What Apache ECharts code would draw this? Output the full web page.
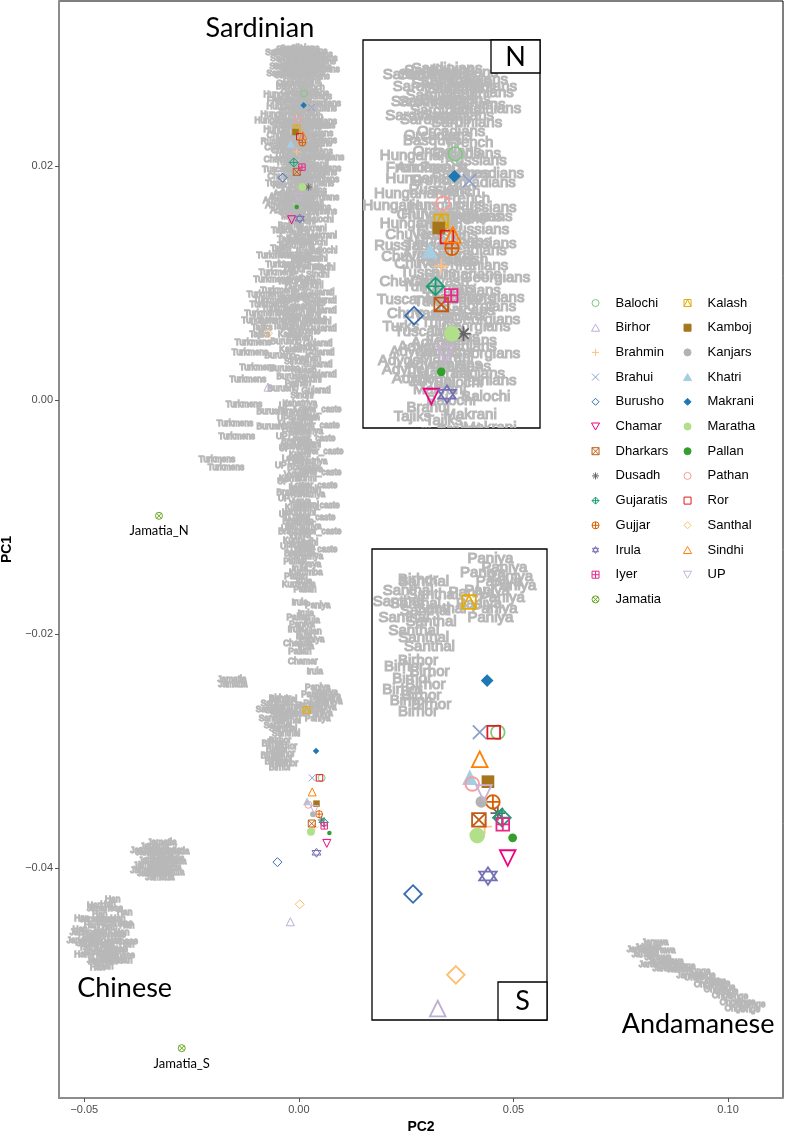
<!DOCTYPE html>
<html><head><meta charset="utf-8">
<script src="https://cdn.jsdelivr.net/npm/echarts@6/dist/echarts.min.js"></script>
<style>html,body{margin:0;padding:0;background:#fff}#c{width:785px;height:1135px}</style>
</head><body><div id="c"></div>
<script>
// ---------- Reference (gray text) populations: [PC2, PC1] ----------
const sardinians = [[0.0002,0.0300],[0.0021,0.0298],[-0.0014,0.0297],[0.0033,0.0295],[0.0002,0.0293],[-0.0021,0.0292],[0.0019,0.0291],[0.0040,0.0289],[-0.0005,0.0288],[0.0012,0.0286],[-0.0023,0.0285],[0.0030,0.0284],[0.0000,0.0281],[0.0016,0.0279],[-0.0012,0.0277],
  [-0.0033,0.0297],[0.0044,0.0292],[-0.0014,0.0285],[0.0049,0.0282],[-0.0030,0.0279],[0.0026,0.0276],[0.0012,0.0294],[-0.0007,0.0299]];
const orcadians = [[0.0007,0.0272],[0.0002,0.0263],[0.0044,0.0249],[0.0033,0.0219],[-0.0009,0.0270],[0.0026,0.0262],[0.0054,0.0253]];
const basques = [[-0.0016,0.0268],[0.0019,0.0253]];
const french = [[0.0030,0.0267],[-0.0002,0.0256],[0.0026,0.0242],[-0.0007,0.0230],[-0.0044,0.0256],[-0.0014,0.0250],[0.0014,0.0245]];
const hungarians = [[-0.0033,0.0261],[-0.0026,0.0251],[-0.0040,0.0244],[0.0002,0.0239],[0.0009,0.0223],[0.0021,0.0208],[-0.0054,0.0239],[0.0035,0.0234],[-0.0033,0.0231],[-0.0007,0.0235]];
const russians = [[0.0037,0.0259],[-0.0007,0.0246],[0.0049,0.0238],[0.0040,0.0228],[0.0002,0.0214],[0.0002,0.0226],[0.0049,0.0222],[-0.0049,0.0221]];
const chuvash = [[-0.0023,0.0235],[-0.0037,0.0226],[-0.0042,0.0216],[-0.0007,0.0205],[-0.0035,0.0191],[0.0016,0.0215],[-0.0026,0.0213],[-0.0044,0.0205]];
const tuscans = [[0.0016,0.0233],[-0.0016,0.0221],[-0.0021,0.0209],[0.0007,0.0198],[-0.0028,0.0183],[0.0002,0.0202],[-0.0049,0.0197],[0.0026,0.0192]];
const armenians = [[0.0026,0.0234],[-0.0009,0.0217],[0.0016,0.0197],[-0.0016,0.0256]];
const iranians = [[0.0044,0.0212],[0.0035,0.0201],[0.0016,0.0190],[0.0009,0.0180],[0.0030,0.0176],[0.0023,0.0167],[0.0030,0.0179],[0.0012,0.0168],[0.0040,0.0164],[0.0054,0.0161],[0.0002,0.0174]];
const turks = [[-0.0030,0.0203],[-0.0016,0.0196],[-0.0007,0.0187],[-0.0016,0.0190],[-0.0054,0.0185],[0.0002,0.0183]];
const georgians = [[0.0044,0.0194],[0.0037,0.0185],[0.0061,0.0207],[0.0054,0.0198],[0.0049,0.0188],[0.0049,0.0173]];
const adygei = [[-0.0014,0.0178],[-0.0040,0.0174],[-0.0021,0.0168],[-0.0037,0.0162],[-0.0030,0.0176],[-0.0054,0.0170],[-0.0016,0.0161],[-0.0049,0.0166]];
const makraniRef = [[0.0002,0.0171],[-0.0002,0.0164],[-0.0007,0.0157],[0.0030,0.0146],[0.0054,0.0140]];
const balochiRef = [[0.0016,0.0160],[0.0007,0.0152],[0.0035,0.0134],[0.0049,0.0154],[0.0058,0.0128]];
const brahuiRef = [[-0.0021,0.0149],[0.0016,0.0139],[0.0021,0.0127],[0.0002,0.0135]];
const tajiks = [[-0.0002,0.0143],[-0.0026,0.0137],[-0.0042,0.0129],[0.0002,0.0119],[-0.0026,0.0101],[-0.0023,0.0086],[-0.0037,0.0063],[-0.0091,0.0056],[-0.0086,0.0062],[-0.0040,0.0145],[-0.0033,0.0075]];
const turkmens = [[-0.0007,0.0132],[-0.0016,0.0124],[-0.0035,0.0116],[-0.0051,0.0109],[-0.0047,0.0093],[-0.0044,0.0078],[-0.0079,0.0090],[-0.0072,0.0081],[-0.0084,0.0074],[-0.0091,0.0068],[-0.0107,0.0049],[-0.0114,0.0040],[-0.0096,0.0028],[-0.0119,0.0017],[-0.0128,-0.0004],[-0.0149,-0.0020],[-0.0145,-0.0031],[-0.0191,-0.0051],[-0.0170,-0.0058],
  [-0.0056,0.0123],[-0.0063,0.0103],[-0.0063,0.0085],[-0.0054,0.0068]];
const uygur = [[-0.0009,0.0111],[-0.0007,0.0096],[-0.0021,0.0071],[-0.0021,0.0116]];
const sindhiRef = [[0.0040,0.0121],[0.0044,0.0107],[0.0030,0.0098],[0.0035,0.0083],[0.0035,0.0068],[0.0014,0.0045],[-0.0007,0.0033],[0.0026,0.0017],[0.0007,0.0004],[0.0058,0.0113],[0.0049,0.0067]];
const pathanRef = [[0.0026,0.0114],[0.0007,0.0104],[0.0012,0.0089],[-0.0002,0.0066],[0.0002,0.0053],[0.0021,0.0035],[-0.0002,0.0014],[0.0016,0.0121],[0.0021,0.0101],[0.0002,0.0070]];
const gujaratiRef = [[0.0049,0.0092],[0.0054,0.0076],[0.0054,0.0061],[0.0044,0.0048],[0.0049,0.0040],[0.0044,0.0030],[0.0054,0.0022],[0.0040,0.0008],[0.0054,0.0085]];
const kalashRef = [[-0.0005,0.0080],[-0.0019,0.0056],[-0.0016,0.0043],[0.0012,0.0025],[-0.0007,0.0087],[-0.0007,0.0062]];
const burushoRef = [[0.0016,0.0074],[0.0014,0.0058],[-0.0030,0.0050],[-0.0044,0.0038],[-0.0033,0.0027],[-0.0016,0.0020],[-0.0037,0.0010],[-0.0063,-0.0010],[-0.0063,-0.0023],[0.0021,0.0079]];
const kshatriya = [[0.0002,-0.0003],[0.0016,-0.0027],[0.0026,-0.0053],[0.0021,-0.0081],[0.0012,-0.0108],[0.0016,-0.0134]];
const upRef = [[-0.0033,-0.0005],[-0.0037,-0.0016],[-0.0040,-0.0031],[-0.0033,-0.0042],[-0.0042,-0.0056],[-0.0037,-0.0070],[-0.0035,-0.0084],[-0.0033,-0.0098],[-0.0028,-0.0110],[-0.0030,-0.0125]];
const lowerCaste = [[0.0044,-0.0008],[0.0040,-0.0022],[0.0030,-0.0033],[0.0049,-0.0044],[0.0044,-0.0062],[0.0035,-0.0073],[0.0040,-0.0090],[0.0030,-0.0101],[0.0044,-0.0113],[0.0035,-0.0128]];
const brahminRef = [[-0.0007,-0.0010],[-0.0005,-0.0036],[0.0009,-0.0058],[-0.0016,-0.0079],[-0.0002,-0.0104],[0.0002,-0.0131],[0.0012,-0.0015],[-0.0007,-0.0040],[0.0016,-0.0077],[-0.0012,-0.0113]];
const vysya = [[0.0021,-0.0014],[0.0014,-0.0039],[-0.0009,-0.0064],[0.0002,-0.0087],[0.0002,-0.0116],[0.0026,-0.0141],[-0.0021,-0.0021],[0.0030,-0.0060],[-0.0007,-0.0103],[0.0012,-0.0126]];
const kurmi = [[0.0007,-0.0019],[0.0002,-0.0047],[0.0016,-0.0067],[-0.0007,-0.0092],[-0.0012,-0.0120],[0.0026,-0.0038],[-0.0021,-0.0067],[0.0021,-0.0090],[0.0002,-0.0124]];
const lodhi = [[-0.0016,-0.0025],[-0.0016,-0.0050],[0.0000,-0.0075],[0.0016,-0.0096],[0.0021,-0.0122],[0.0002,-0.0028],[-0.0002,-0.0053],[-0.0016,-0.0096]];
const pallanRef = [[-0.0009,-0.0138],[-0.0007,-0.0151],[0.0014,-0.0162],[-0.0002,-0.0186],[0.0026,-0.0198],[0.0002,-0.0215]];
const irulaRef = [[0.0002,-0.0144],[0.0012,-0.0155],[0.0002,-0.0173],[0.0016,-0.0183],[0.0030,-0.0189],[-0.0007,-0.0196],[0.0012,-0.0202],[0.0016,-0.0211],[0.0037,-0.0232]];
const kurumba = [[0.0016,-0.0148],[0.0000,-0.0158]];
const paniya = [[0.0044,-0.0176],[0.0007,-0.0192],[0.0030,-0.0205],[0.0044,-0.0246],[0.0061,-0.0250],[0.0035,-0.0252],[0.0054,-0.0256],[0.0072,-0.0258],[0.0040,-0.0260],[0.0058,-0.0263],[0.0030,-0.0266],[0.0049,-0.0268],[0.0021,-0.0261],[0.0068,-0.0254],[0.0044,-0.0272]];
const chamarRef = [[-0.0002,-0.0208],[0.0009,-0.0224]];
const jamatiaRef = [[-0.0156,-0.0239],[-0.0154,-0.0243],[-0.0319,-0.0378],[-0.0336,-0.0382],[-0.0308,-0.0385],[-0.0347,-0.0387],[-0.0324,-0.0390],[-0.0301,-0.0392],[-0.0340,-0.0394],[-0.0317,-0.0397],[-0.0352,-0.0398],[-0.0308,-0.0400],[-0.0331,-0.0403],[-0.0343,-0.0405],[-0.0324,-0.0408],[-0.0296,-0.0395],
  [-0.0359,-0.0385],[-0.0289,-0.0386],[-0.0329,-0.0386],[-0.0359,-0.0402],[-0.0301,-0.0404],[-0.0315,-0.0394]];
const santhalRef = [[-0.0037,-0.0256],[-0.0056,-0.0260],[-0.0026,-0.0262],[-0.0047,-0.0266],[-0.0035,-0.0269],[-0.0061,-0.0272],[-0.0028,-0.0274],[-0.0049,-0.0278],[-0.0037,-0.0281],[-0.0016,-0.0268],[-0.0068,-0.0265],[-0.0030,-0.0285]];
const birhorRef = [[-0.0044,-0.0255],[-0.0044,-0.0291],[-0.0061,-0.0294],[-0.0030,-0.0296],[-0.0051,-0.0299],[-0.0035,-0.0302],[-0.0063,-0.0304],[-0.0040,-0.0307],[-0.0054,-0.0309],[-0.0028,-0.0311],[-0.0044,-0.0314]];
const han = [[-0.0434,-0.0427],[-0.0445,-0.0431],[-0.0464,-0.0440],[-0.0422,-0.0443],[-0.0483,-0.0449],[-0.0441,-0.0451],[-0.0413,-0.0455],[-0.0471,-0.0459],[-0.0429,-0.0462],[-0.0455,-0.0466],[-0.0492,-0.0468],[-0.0417,-0.0470],[-0.0464,-0.0474],[-0.0436,-0.0477],[-0.0473,-0.0480],[-0.0450,-0.0484],[-0.0459,-0.0454],[-0.0487,-0.0460],
  [-0.0476,-0.0432],[-0.0406,-0.0438],[-0.0506,-0.0443],[-0.0452,-0.0444],[-0.0401,-0.0449],[-0.0510,-0.0453],[-0.0422,-0.0457],[-0.0483,-0.0463],[-0.0401,-0.0466],[-0.0445,-0.0468],[-0.0506,-0.0474],[-0.0406,-0.0479],[-0.0441,-0.0480],[-0.0469,-0.0485]];
const japanese = [[-0.0452,-0.0435],[-0.0469,-0.0444],[-0.0429,-0.0448],[-0.0492,-0.0455],[-0.0445,-0.0457],[-0.0417,-0.0463],[-0.0476,-0.0465],[-0.0441,-0.0470],[-0.0464,-0.0472],[-0.0499,-0.0462],[-0.0424,-0.0475],[-0.0452,-0.0479]];
const jarawa = [[0.0830,-0.0464],[0.0814,-0.0468],[0.0846,-0.0471],[0.0807,-0.0474],[0.0837,-0.0477],[0.0865,-0.0480],[0.0823,-0.0483],[0.0855,-0.0486],[0.0888,-0.0487],[0.0911,-0.0492],[0.0795,-0.0470],[0.0876,-0.0484],[0.0844,-0.0480]];
const onge = [[0.0900,-0.0484],[0.0935,-0.0489],[0.0921,-0.0494],[0.0958,-0.0496],[0.0944,-0.0500],[0.0981,-0.0499],[0.0967,-0.0504],[0.1000,-0.0506],[0.0986,-0.0509],[0.1023,-0.0510],[0.1004,-0.0515],[0.1040,-0.0515],[0.1016,-0.0520],[0.1051,-0.0521],[0.0993,-0.0502],
  [0.0947,-0.0492],[0.0972,-0.0497],[0.1028,-0.0516],[0.1063,-0.0517]];

const refClusters = [
  ['Sardinians', sardinians], ['Orcadians', orcadians], ['Basques', basques], ['French', french],
  ['Hungarians', hungarians], ['Russians', russians], ['Chuvash', chuvash], ['Tuscans', tuscans],
  ['Armenians', armenians], ['Iranians', iranians], ['Turks', turks], ['Georgians', georgians],
  ['Adygei', adygei], ['Makrani', makraniRef], ['Balochi', balochiRef], ['Brahui', brahuiRef],
  ['Tajiks', tajiks], ['Turkmens', turkmens], ['Uygur', uygur], ['Sindhi', sindhiRef],
  ['Pathan', pathanRef], ['Gujarati', gujaratiRef], ['Kalash', kalashRef], ['Burusho', burushoRef],
  ['Kshatriya', kshatriya], ['UP', upRef], ['Lower_caste', lowerCaste], ['Brahmin', brahminRef],
  ['Vysya', vysya], ['Kurmi', kurmi], ['Lodhi', lodhi], ['Pallan', pallanRef], ['Irula', irulaRef],
  ['Kurumba', kurumba], ['Paniya', paniya], ['Chamar', chamarRef], ['Jamatia', jamatiaRef],
  ['Santhal', santhalRef], ['Birhor', birhorRef], ['Han', han], ['Japanese', japanese],
  ['Jarawa', jarawa], ['Onge', onge]
];

// ---------- Indian study populations: North and South positions [PC2, PC1] ----------
const popNames = ['Balochi','Birhor','Brahmin','Brahui','Burusho','Chamar','Dharkars','Dusadh','Gujaratis','Gujjar','Irula','Iyer','Jamatia',
                  'Kalash','Kamboj','Kanjars','Khatri','Makrani','Maratha','Pallan','Pathan','Ror','Santhal','Sindhi','UP'];
const popNorth = [[0.0012,0.0262],[-0.0072,0.0011],[-0.0005,0.0212],[0.0029,0.0250],[-0.0038,0.0190],[-0.0017,0.0154],[-0.0005,0.0195],[0.0022,0.0182],[-0.0012,0.0203],[0.0008,0.0220],[0.0002,0.0155],[0.0007,0.0199],[-0.0326,-0.0099],
                  [-0.0005,0.0232],[-0.0008,0.0229],null,[-0.0019,0.0219],[0.0011,0.0252],[0.0008,0.0182],[-0.0005,0.0165],[-0.0003,0.0240],[0.0002,0.0225],[-0.0072,0.0057],[0.0009,0.0226],[0.0000,0.0173]];
const popSouth = [[0.0053,-0.0323],[-0.0020,-0.0446],[0.0037,-0.0365],[0.0031,-0.0323],[-0.0050,-0.0395],[0.0065,-0.0379],[0.0030,-0.0362],[0.0053,-0.0359],[0.0058,-0.0361],[0.0047,-0.0354],[0.0041,-0.0387],[0.0059,-0.0364],[-0.0273,-0.0554],
                  [0.0018,-0.0265],[0.0041,-0.0345],[0.0033,-0.0354],[0.0019,-0.0343],[0.0040,-0.0300],[0.0028,-0.0369],[0.0071,-0.0370],[0.0022,-0.0346],[0.0048,-0.0323],[0.0002,-0.0431],[0.0031,-0.0335],[0.0036,-0.0350]];
const jamatiaTags = ['Jamatia_N', 'Jamatia_S'];

// Big region annotations [PC2, PC1]
const annoText = ['Sardinian', 'Chinese', 'Andamanese'];
const annoPos = [[-0.0091, 0.0318], [-0.0406, -0.0503], [0.0930, -0.0534]];

// Axis ticks
const xTickValues = [-0.05, 0, 0.05, 0.10];
const xTickLabels = ['\u22120.05', '0.00', '0.05', '0.10'];
const yTickValues = [-0.04, -0.02, 0, 0.02];
const yTickLabels = ['\u22120.04', '\u22120.02', '0.00', '0.02'];

// ---------- Styles ----------
const popColor = {
  Balochi:'#7FC97F', Birhor:'#BEAED4', Brahmin:'#FDC086', Brahui:'#8DA0CB', Burusho:'#386CB0', Chamar:'#F0027F',
  Dharkars:'#BF5B17', Dusadh:'#666666', Gujaratis:'#1B9E77', Gujjar:'#D95F02', Irula:'#7570B3', Iyer:'#E7298A',
  Jamatia:'#66A61E', Kalash:'#E6AB02', Kamboj:'#A6761D', Kanjars:'#B3B3B3', Khatri:'#A6CEE3', Makrani:'#1F78B4',
  Maratha:'#B2DF8A', Pallan:'#33A02C', Pathan:'#FB9A99', Ror:'#E31A1C', Santhal:'#FDBF6F', Sindhi:'#FF7F00', UP:'#CAB2D6'
};
const SQ = 'M0 0L20 0L20 20L0 20Z';
const CIRC = 'M0 10A10 10 0 1 1 20 10A10 10 0 1 1 0 10Z';
const SHAPES = {
  circle:      {symbol:'circle', fill:false, size:7},
  triangle:    {symbol:'path://M10 0L20 17.32L0 17.32Z', fill:false, size:8},
  plus:        {symbol:'path://M10 0L10 20M0 10L20 10', fill:false, size:7.5},
  cross:       {symbol:'path://M0 0L20 20M20 0L0 20', fill:false, size:7},
  diamond:     {symbol:'path://M10 0L20 10L10 20L0 10Z', fill:false, size:9},
  triDown:     {symbol:'path://M0 0L20 0L10 17.32Z', fill:false, size:8},
  squareX:     {symbol:'path://' + SQ + 'M0 0L20 20M20 0L0 20', fill:false, size:7},
  asterisk:    {symbol:'path://M10 0L10 20M0 10L20 10M2.93 2.93L17.07 17.07M17.07 2.93L2.93 17.07', fill:false, size:7.5},
  diamondPlus: {symbol:'path://M10 0L20 10L10 20L0 10ZM10 0L10 20M0 10L20 10', fill:false, size:9},
  circlePlus:  {symbol:'path://' + CIRC + 'M10 0L10 20M0 10L20 10', fill:false, size:7},
  star:        {symbol:'path://M10 0L18.66 15L1.34 15ZM10 20L1.34 5L18.66 5Z', fill:false, size:9},
  squarePlus:  {symbol:'path://' + SQ + 'M10 0L10 20M0 10L20 10', fill:false, size:6.5},
  circleX:     {symbol:'path://' + CIRC + 'M2.93 2.93L17.07 17.07M17.07 2.93L2.93 17.07', fill:false, size:7},
  squareTri:   {symbol:'path://' + SQ + 'M0 20L10 0L20 20', fill:false, size:7},
  squareFill:  {symbol:'path://' + SQ, fill:true, size:6.5},
  dot16:       {symbol:'circle', fill:true, size:6},
  triFill:     {symbol:'path://M10 0L20 17.32L0 17.32Z', fill:true, size:8},
  diamondFill: {symbol:'path://M10 0L20 10L10 20L0 10Z', fill:true, size:6.5},
  dot19:       {symbol:'circle', fill:true, size:8},
  dot20:       {symbol:'circle', fill:true, size:4.5},
  square:      {symbol:'path://' + SQ, fill:false, size:6.5}
};
const popShape = {
  Balochi:'circle', Birhor:'triangle', Brahmin:'plus', Brahui:'cross', Burusho:'diamond', Chamar:'triDown',
  Dharkars:'squareX', Dusadh:'asterisk', Gujaratis:'diamondPlus', Gujjar:'circlePlus', Irula:'star', Iyer:'squarePlus',
  Jamatia:'circleX', Kalash:'squareTri', Kamboj:'squareFill', Kanjars:'dot16', Khatri:'triFill', Makrani:'diamondFill',
  Maratha:'dot19', Pallan:'dot20', Pathan:'circle', Ror:'square', Santhal:'diamond', Sindhi:'triangle', UP:'triDown'
};
const GRAY = '#b8b8b8';
const SCALE = [1, 1.95, 1.95];
const BW = [1, 1.8, 1.8];
const LABEL_FS = [8.3, 15, 15];
const LABEL_SW = [1.3, 1.2, 1.2];

// ---------- Build ----------
const refData = [];
refClusters.forEach(([name, pts]) => pts.forEach(p => refData.push({name: name, value: p})));

function labelSeries(g) {
  return {
    type: 'custom', coordinateSystem: 'cartesian2d', xAxisIndex: g, yAxisIndex: g,
    clip: g > 0, silent: true, z: 1, animation: false, data: refData, encode: {x: 0, y: 1},
    renderItem: function (params, api) {
      const c = api.coord([api.value(0), api.value(1)]);
      return {type: 'text', x: c[0], y: c[1], silent: true,
        style: {text: refData[params.dataIndex].name, fill: GRAY, stroke: GRAY, lineWidth: LABEL_SW[g],
          fontSize: LABEL_FS[g], fontFamily: 'Liberation Sans', align: 'center', verticalAlign: 'middle'}};
    }
  };
}

const series = [labelSeries(0), labelSeries(1), labelSeries(2)];
popNames.forEach((name, i) => {
  const pts = [];
  const isJ = name === 'Jamatia';
  if (popNorth[i]) pts.push({value: popNorth[i], name: isJ ? jamatiaTags[0] : name});
  if (popSouth[i]) pts.push({value: popSouth[i], name: isJ ? jamatiaTags[1] : name});
  const sh = SHAPES[popShape[name]];
  const col = popColor[name];
  [0, 1, 2].forEach(g => {
    series.push({
      type: 'scatter', name: name, xAxisIndex: g, yAxisIndex: g, data: pts,
      symbol: sh.symbol, symbolSize: sh.size * SCALE[g], clip: true, silent: true, z: 3, animation: false,
      itemStyle: {color: sh.fill ? col : 'rgba(0,0,0,0)', borderColor: col, borderWidth: sh.fill ? 0 : BW[g], opacity: 1},
      label: (isJ && g === 0) ? {show: true, position: 'bottom', distance: 5, formatter: '{b}',
        fontFamily: 'Lato', fontSize: 13, color: '#000'} : {show: false},
      emphasis: {disabled: true}
    });
  });
});

series.push({
  type: 'custom', coordinateSystem: 'cartesian2d', xAxisIndex: 0, yAxisIndex: 0, clip: false, silent: true, z: 4,
  animation: false, data: annoPos.map((p, i) => ({name: annoText[i], value: p})), encode: {x: 0, y: 1},
  renderItem: function (params, api) {
    const c = api.coord([api.value(0), api.value(1)]);
    return {type: 'text', x: c[0], y: c[1], silent: true,
      style: {text: annoText[params.dataIndex], fill: '#000', fontSize: 27, fontFamily: 'Lato', align: 'center', verticalAlign: 'middle'}};
  }
});

function fmt(vals, labels) { return v => { const i = vals.findIndex(t => Math.abs(t - v) < 1e-9); return i >= 0 ? labels[i] : ''; }; }

const hiddenAxis = {show: false, type: 'value', splitLine: {show: false}};
const legendBase = {orient: 'vertical', top: 296, padding: 0, itemWidth: 22, itemHeight: 7, itemGap: 10.7,
  selectedMode: false, itemStyle: {borderWidth: 1},
  textStyle: {fontSize: 13, fontFamily: 'Liberation Sans', color: '#000', lineHeight: 14, padding: [0, 0, 0, 4]}};

const option = {
  animation: false,
  backgroundColor: '#fff',
  textStyle: {fontFamily: 'Liberation Sans'},
  grid: [
    {left: 59, top: 1, width: 724, height: 1097, show: true, borderColor: '#000', borderWidth: 1, backgroundColor: '#fff', containLabel: false, outerBoundsMode: 'none'},
    {left: 363, top: 40, width: 177, height: 388, show: true, borderColor: '#000', borderWidth: 1.3, backgroundColor: '#fff', z: 1, containLabel: false, outerBoundsMode: 'none'},
    {left: 372, top: 549, width: 175, height: 471, show: true, borderColor: '#000', borderWidth: 1.3, backgroundColor: '#fff', z: 1, containLabel: false, outerBoundsMode: 'none'}
  ],
  xAxis: [
    {type: 'value', gridIndex: 0, min: -0.0559, max: 0.1128, z: 5,
      axisLine: {show: true, onZero: false, lineStyle: {color: '#8c8c8c', width: 2}},
      axisTick: {show: true, customValues: xTickValues, length: 4, lineStyle: {color: '#555', width: 1}},
      axisLabel: {customValues: xTickValues, formatter: fmt(xTickValues, xTickLabels), fontSize: 11, color: '#4d4d4d', margin: 6},
      splitLine: {show: false},
      name: 'PC2', nameLocation: 'middle', nameGap: 20, nameTextStyle: {fontSize: 14, fontWeight: 'bold', color: '#000'}},
    Object.assign({gridIndex: 1, min: -0.0100, max: 0.01149}, hiddenAxis),
    Object.assign({gridIndex: 2, min: -0.00998, max: 0.01127}, hiddenAxis)
  ],
  yAxis: [
    {type: 'value', gridIndex: 0, min: -0.05966, max: 0.0341, z: 5,
      axisLine: {show: true, onZero: false, lineStyle: {color: '#8c8c8c', width: 2}},
      axisTick: {show: true, customValues: yTickValues, length: 4, lineStyle: {color: '#555', width: 1}},
      axisLabel: {customValues: yTickValues, formatter: fmt(yTickValues, yTickLabels), fontSize: 11, color: '#4d4d4d', margin: 6},
      splitLine: {show: false},
      name: 'PC1', nameLocation: 'middle', nameGap: 43, nameTextStyle: {fontSize: 14, fontWeight: 'bold', color: '#000'}},
    Object.assign({gridIndex: 1, min: 0.01400, max: 0.03127}, hiddenAxis),
    Object.assign({gridIndex: 2, min: -0.04511, max: -0.02414}, hiddenAxis)
  ],
  legend: [
    Object.assign({left: 591, data: popNames.slice(0, 13)}, legendBase),
    Object.assign({left: 683, data: popNames.slice(13)}, legendBase)
  ],
  graphic: [
    {type: 'rect', x: 491, y: 40, z: 100, shape: {width: 49, height: 33}, style: {fill: '#fff', stroke: '#000', lineWidth: 1.3}},
    {type: 'text', x: 515.5, y: 57, z: 101, style: {text: 'N', fontSize: 27, fontFamily: 'Lato', fill: '#000', align: 'center', verticalAlign: 'middle'}},
    {type: 'rect', x: 498, y: 982, z: 100, shape: {width: 49, height: 38}, style: {fill: '#fff', stroke: '#000', lineWidth: 1.3}},
    {type: 'text', x: 522.5, y: 1001, z: 101, style: {text: 'S', fontSize: 27, fontFamily: 'Lato', fill: '#000', align: 'center', verticalAlign: 'middle'}}
  ],
  series: series
};

const chart = echarts.init(document.getElementById('c'), null, {renderer: 'canvas'});
chart.setOption(option);
</script>
</body></html>
